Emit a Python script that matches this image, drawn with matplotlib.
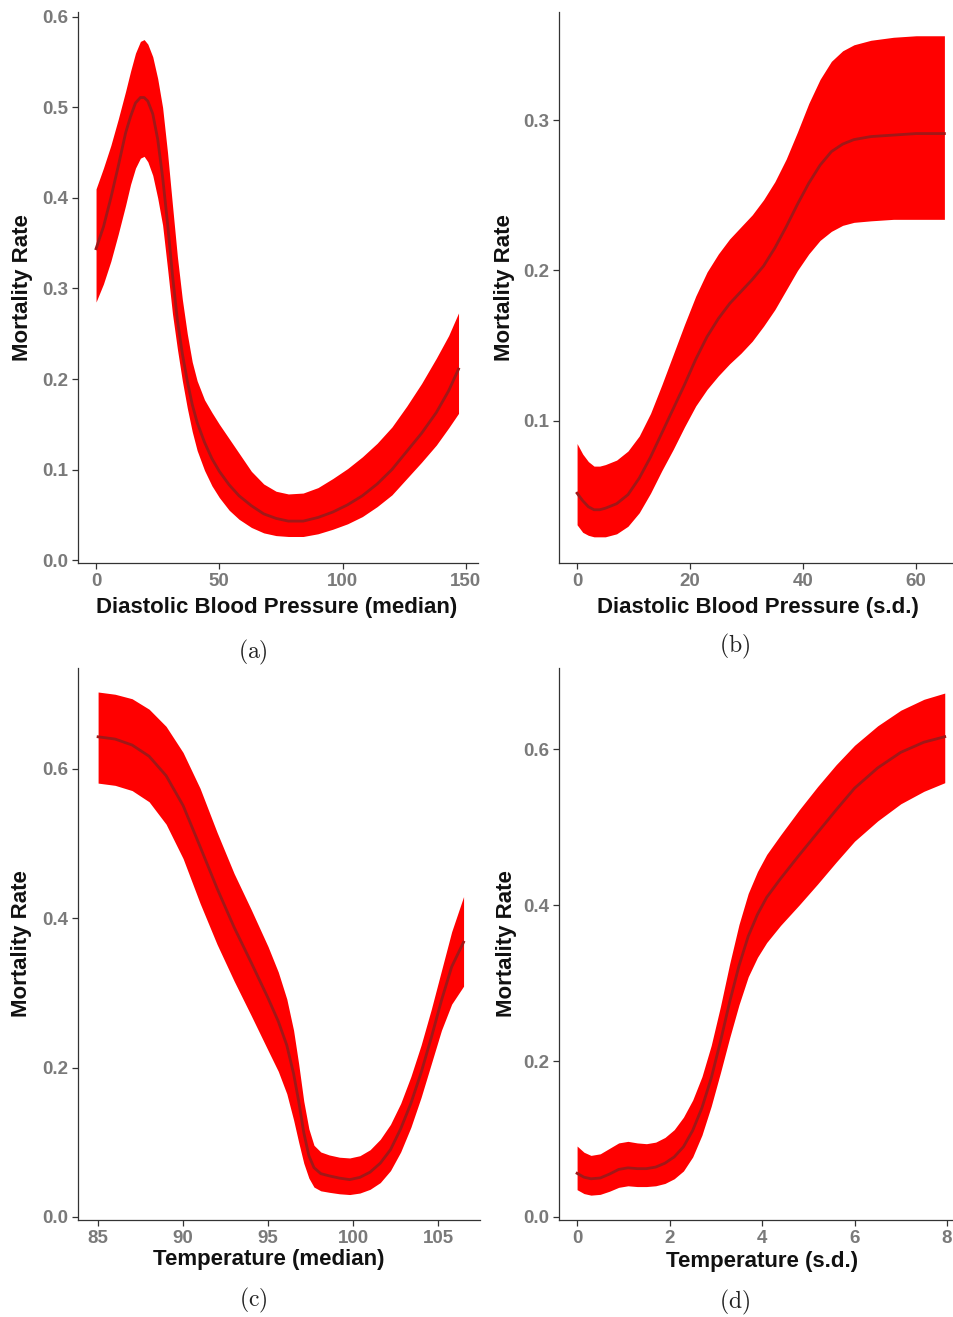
import numpy as np
import matplotlib
matplotlib.use("Agg")
import matplotlib.pyplot as plt

plt.rcParams['font.family'] = ['Liberation Sans', 'DejaVu Sans']
plt.rcParams['mathtext.fontset'] = 'cm'

# ---- panel (a): diastolic blood pressure (median)
dbp_med_x = [0, 3, 6, 9, 12, 14, 16, 18, 19.5, 21, 23, 25, 27, 29, 31, 33, 35, 37, 39,
             41, 44, 47, 50, 54, 58, 63, 68, 73, 78, 84, 90, 96, 102, 108, 114, 120,
             126, 132, 138, 143, 147]
dbp_med_hi = [0.410, 0.433, 0.458, 0.487, 0.518, 0.540, 0.560, 0.573, 0.575, 0.570,
              0.556, 0.532, 0.500, 0.450, 0.392, 0.335, 0.288, 0.250, 0.219, 0.198,
              0.177, 0.163, 0.150, 0.134, 0.118, 0.098, 0.084, 0.076, 0.073, 0.074,
              0.080, 0.090, 0.101, 0.114, 0.129, 0.147, 0.170, 0.195, 0.223, 0.248, 0.273]
dbp_med_mid = [0.344, 0.368, 0.400, 0.435, 0.472, 0.490, 0.505, 0.511, 0.511, 0.507,
               0.493, 0.465, 0.423, 0.372, 0.315, 0.265, 0.228, 0.198, 0.172, 0.152,
               0.130, 0.112, 0.098, 0.083, 0.071, 0.060, 0.051, 0.046, 0.043, 0.043,
               0.047, 0.053, 0.061, 0.071, 0.084, 0.100, 0.120, 0.140, 0.163, 0.187, 0.211]
dbp_med_lo = [0.285, 0.305, 0.330, 0.360, 0.392, 0.415, 0.433, 0.444, 0.446, 0.440,
              0.425, 0.400, 0.370, 0.322, 0.272, 0.233, 0.198, 0.168, 0.142, 0.121,
              0.099, 0.082, 0.069, 0.055, 0.045, 0.036, 0.030, 0.027, 0.026, 0.026,
              0.029, 0.034, 0.040, 0.048, 0.059, 0.072, 0.090, 0.108, 0.127, 0.146, 0.162]

# ---- panel (b): diastolic blood pressure (s.d.)
dbp_sd_x = [0, 1, 2, 3, 4, 5, 7, 9, 11, 13, 15, 17, 19, 21, 23, 25, 27, 29, 31, 33,
            35, 37, 39, 41, 43, 45, 47, 49, 52, 56, 60, 65]
dbp_sd_hi = [0.085, 0.078, 0.073, 0.070, 0.070, 0.071, 0.074, 0.080, 0.090, 0.105,
             0.124, 0.144, 0.164, 0.183, 0.199, 0.211, 0.221, 0.229, 0.237, 0.247,
             0.259, 0.274, 0.292, 0.311, 0.327, 0.339, 0.346, 0.350, 0.353, 0.355,
             0.356, 0.356]
dbp_sd_mid = [0.052, 0.047, 0.043, 0.041, 0.041, 0.042, 0.045, 0.051, 0.062, 0.076,
              0.092, 0.108, 0.124, 0.141, 0.156, 0.168, 0.178, 0.186, 0.194, 0.203,
              0.215, 0.229, 0.244, 0.258, 0.270, 0.279, 0.284, 0.287, 0.289, 0.290,
              0.291, 0.291]
dbp_sd_lo = [0.031, 0.026, 0.024, 0.023, 0.023, 0.023, 0.025, 0.030, 0.039, 0.052,
             0.067, 0.081, 0.096, 0.110, 0.121, 0.130, 0.138, 0.145, 0.153, 0.163,
             0.174, 0.187, 0.200, 0.211, 0.220, 0.226, 0.230, 0.232, 0.233, 0.234,
             0.234, 0.234]

# ---- panel (c): temperature (median)
temp_med_x = [85, 86, 87, 88, 89, 90, 91, 92, 93, 94, 95, 95.6, 96.1, 96.5, 96.8, 97.1,
              97.4, 97.7, 98.1, 98.6, 99.2, 99.8, 100.4, 101.0, 101.6, 102.2, 102.8,
              103.4, 104.0, 104.6, 105.2, 105.8, 106.5]
temp_med_hi = [0.703, 0.700, 0.694, 0.680, 0.657, 0.622, 0.574, 0.515, 0.460, 0.412,
               0.362, 0.328, 0.292, 0.250, 0.205, 0.155, 0.118, 0.096, 0.087, 0.083,
               0.080, 0.079, 0.082, 0.090, 0.104, 0.124, 0.152, 0.188, 0.230, 0.278,
               0.330, 0.382, 0.429]
temp_med_mid = [0.643, 0.640, 0.632, 0.617, 0.591, 0.551, 0.496, 0.440, 0.388, 0.341,
                0.293, 0.262, 0.230, 0.192, 0.155, 0.113, 0.082, 0.066, 0.058, 0.055,
                0.052, 0.050, 0.053, 0.060, 0.072, 0.090, 0.118, 0.152, 0.193, 0.240,
                0.290, 0.335, 0.368]
temp_med_lo = [0.581, 0.578, 0.571, 0.556, 0.526, 0.480, 0.420, 0.365, 0.316, 0.270,
               0.223, 0.195, 0.165, 0.130, 0.100, 0.072, 0.052, 0.040, 0.035, 0.033,
               0.031, 0.030, 0.032, 0.037, 0.046, 0.062, 0.087, 0.120, 0.160, 0.205,
               0.250, 0.285, 0.309]

# ---- panel (d): temperature (s.d.)
temp_sd_x = [0, 0.15, 0.3, 0.5, 0.7, 0.9, 1.1, 1.3, 1.5, 1.7, 1.9, 2.1, 2.3, 2.5, 2.7,
             2.9, 3.1, 3.3, 3.5, 3.7, 3.9, 4.1, 4.4, 4.8, 5.2, 5.6, 6.0, 6.5, 7.0, 7.5, 7.95]
temp_sd_hi = [0.091, 0.083, 0.079, 0.081, 0.088, 0.095, 0.097, 0.095, 0.094, 0.096,
              0.102, 0.112, 0.128, 0.150, 0.180, 0.220, 0.270, 0.325, 0.375, 0.415,
              0.443, 0.465, 0.490, 0.522, 0.552, 0.580, 0.605, 0.630, 0.650, 0.664, 0.672]
temp_sd_mid = [0.056, 0.051, 0.049, 0.050, 0.055, 0.061, 0.063, 0.062, 0.062, 0.064,
               0.069, 0.077, 0.090, 0.111, 0.140, 0.178, 0.225, 0.276, 0.322, 0.360,
               0.388, 0.410, 0.434, 0.464, 0.493, 0.522, 0.550, 0.576, 0.596, 0.609, 0.616]
temp_sd_lo = [0.035, 0.030, 0.028, 0.029, 0.033, 0.038, 0.040, 0.039, 0.039, 0.040,
              0.043, 0.049, 0.059, 0.077, 0.105, 0.142, 0.185, 0.230, 0.272, 0.308,
              0.333, 0.352, 0.374, 0.400, 0.427, 0.455, 0.482, 0.508, 0.530, 0.546, 0.557]

panels = [
    dict(x=dbp_med_x, lo=dbp_med_lo, mid=dbp_med_mid, hi=dbp_med_hi,
         rect=[0.0818, 0.5725, 0.419, 0.4184], xlim=(-7.3, 154.8), ylim=(-0.0033, 0.6055),
         xticks=[0, 50, 100, 150], yticks=[0.0, 0.1, 0.2, 0.3, 0.4, 0.5, 0.6],
         xlabel="Diastolic Blood Pressure (median)", xlab=(0.4975, -0.08), ylab=(-0.14, 0.5),
         cap="a", cappos=(253, 652)),
    dict(x=dbp_sd_x, lo=dbp_sd_lo, mid=dbp_sd_mid, hi=dbp_sd_hi,
         rect=[0.586, 0.5725, 0.414, 0.4184], xlim=(-3.19, 66.7), ylim=(0.0056, 0.3718),
         xticks=[0, 20, 40, 60], yticks=[0.1, 0.2, 0.3],
         xlabel="Diastolic Blood Pressure (s.d.)", xlab=(0.504, -0.08), ylab=(-0.137, 0.5),
         cap="b", cappos=(735, 646)),
    dict(x=temp_med_x, lo=temp_med_lo, mid=temp_med_mid, hi=temp_med_hi,
         rect=[0.0818, 0.0737, 0.4214, 0.419], xlim=(83.82, 107.47), ylim=(-0.004, 0.735),
         xticks=[85, 90, 95, 100, 105], yticks=[0.0, 0.2, 0.4, 0.6],
         xlabel="Temperature (median)", xlab=(0.475, -0.072), ylab=(-0.14, 0.5),
         cap="c", cappos=(253, 1300)),
    dict(x=temp_sd_x, lo=temp_sd_lo, mid=temp_sd_mid, hi=temp_sd_hi,
         rect=[0.586, 0.0737, 0.414, 0.419], xlim=(-0.39, 8.15), ylim=(-0.0038, 0.704),
         xticks=[0, 2, 4, 6, 8], yticks=[0.0, 0.2, 0.4, 0.6],
         xlabel="Temperature (s.d.)", xlab=(0.514, -0.076), ylab=(-0.132, 0.5),
         cap="d", cappos=(735, 1302)),
]

W, H = 954, 1317
fig = plt.figure(figsize=(W / 100, H / 100), dpi=100)

for p in panels:
    ax = fig.add_axes(p["rect"])
    ax.fill_between(p["x"], p["lo"], p["hi"], color="#ff0000", lw=0)
    ax.plot(p["x"], p["mid"], color="#a01818", lw=2, solid_joinstyle="round")
    ax.set_xlim(*p["xlim"])
    ax.set_ylim(*p["ylim"])
    ax.set_xticks(p["xticks"])
    ax.set_yticks(p["yticks"])
    ax.set_yticklabels(["%.1f" % v for v in p["yticks"]])
    for s in ["top", "right"]:
        ax.spines[s].set_visible(False)
    for s in ["left", "bottom"]:
        ax.spines[s].set_color("#333333")
        ax.spines[s].set_linewidth(0.9)
    ax.tick_params(length=4, width=0.9, color="#333333", labelcolor="#7a7a7a",
                   labelsize=13.5, pad=3)
    for lab in ax.get_xticklabels() + ax.get_yticklabels():
        lab.set_fontweight("bold")
    ax.set_xlabel(p["xlabel"], fontsize=16, fontweight="bold", color="#111111")
    ax.set_ylabel("Mortality Rate", fontsize=16, fontweight="bold", color="#111111")
    ax.xaxis.set_label_coords(*p["xlab"])
    ax.yaxis.set_label_coords(*p["ylab"])
    ax.xaxis.label.set_va("center")
    ax.yaxis.label.set_va("center")
    fig.text(p["cappos"][0] / W, 1 - p["cappos"][1] / H, r"$(\mathrm{%s})$" % p["cap"],
             fontsize=17, ha="center", va="center", color="#222222")

fig.savefig("out.png", dpi=100)
